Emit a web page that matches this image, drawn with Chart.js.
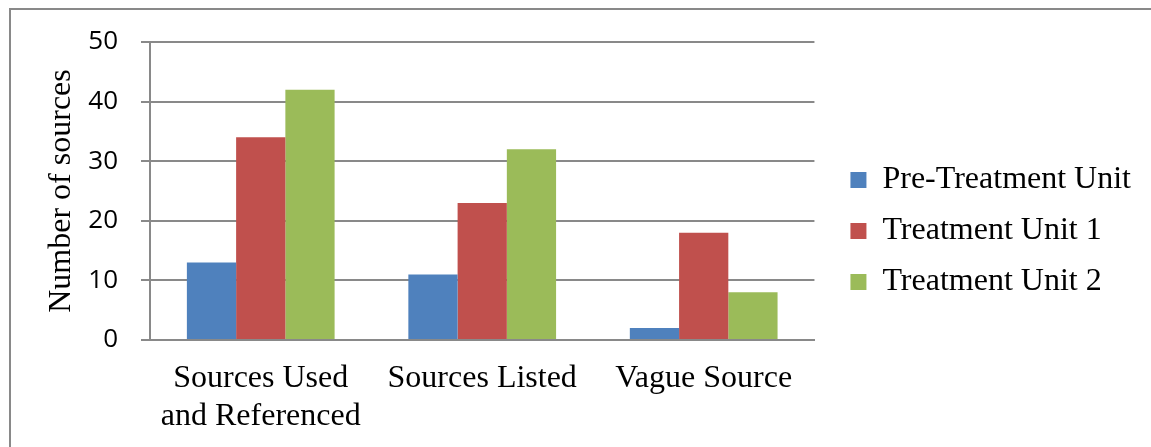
<!DOCTYPE html>
<html>
<head>
<meta charset="utf-8">
<title>Number of sources</title>
<script src="https://cdn.jsdelivr.net/npm/chart.js@4.4.0/dist/chart.umd.min.js"></script>
<style>
  html, body { margin: 0; padding: 0; background: #fff; }
  #wrap { width: 1151px; height: 447px; }
</style>
</head>
<body>
<div id="wrap"><canvas id="sourcesChart" width="1151" height="447"></canvas></div>
<script>
// data
const categories = [['Sources Used', 'and Referenced'], 'Sources Listed', 'Vague Source'];
const seriesNames = ['Pre-Treatment Unit', 'Treatment Unit 1', 'Treatment Unit 2'];
const preTreatment = [13, 11, 2];
const treatmentUnit1 = [34, 23, 18];
const treatmentUnit2 = [42, 32, 8];
const yTicks = [0, 10, 20, 30, 40, 50];

const seriesColors = ['#4F81BD', '#C0504D', '#9BBB59'];
const lineGray = '#898989';
const serif = 'Liberation Serif';

// grey frame along the top and left edges
const frame = {
  id: 'frame',
  beforeDraw(chart) {
    const ctx = chart.ctx;
    ctx.save();
    ctx.strokeStyle = lineGray;
    ctx.lineWidth = 2;
    ctx.beginPath();
    ctx.moveTo(10, chart.height);
    ctx.lineTo(10, 9);
    ctx.lineTo(chart.width, 9);
    ctx.stroke();
    ctx.restore();
  }
};

function buildDatasets() {
  return [preTreatment, treatmentUnit1, treatmentUnit2].map((values, i) => ({
    label: seriesNames[i],
    data: values,
    backgroundColor: seriesColors[i],
    borderWidth: 0,
    xAxisID: 'x',
    yAxisID: 'y'
  }));
}

// invisible scale used only to reserve room beside the plot
function spacer(position, size) {
  return {
    position: position,
    grid: { display: false },
    border: { display: false },
    ticks: { display: false },
    afterFit(scale) {
      if (scale.isHorizontal()) scale.height = size;
      else scale.width = size;
    }
  };
}

window.onload = function () {
  const ctx = document.getElementById('sourcesChart').getContext('2d');
  new Chart(ctx, {
    type: 'bar',
    data: { labels: categories, datasets: buildDatasets() },
    plugins: [frame],
    options: {
      responsive: false,
      animation: false,
      datasets: { bar: { categoryPercentage: 0.667, barPercentage: 1.0 } },
      layout: { padding: { top: 29, left: 20, right: 10, bottom: 14 } },
      plugins: {
        tooltip: { enabled: false },
        legend: {
          position: 'right',
          maxWidth: 360,
          labels: {
            boxWidth: 16,
            boxHeight: 16,
            padding: 19,
            color: '#000',
            font: { family: serif, size: 32 }
          }
        }
      },
      scales: {
        x: {
          grid: { display: false },
          border: { display: true, color: lineGray, width: 2 },
          ticks: { color: '#000', padding: 12, maxRotation: 0, font: { family: serif, size: 32, lineHeight: 1.18 } },
          afterFit(scale) { scale.height = 93; }
        },
        y: {
          min: yTicks[0],
          max: yTicks[yTicks.length - 1],
          grid: { color: lineGray, lineWidth: 2, tickLength: 9 },
          border: { display: true, color: lineGray, width: 2 },
          ticks: { stepSize: yTicks[1] - yTicks[0], color: '#000', padding: 23, font: { family: 'Open Sans', size: 26 } },
          title: {
            display: true,
            text: 'Number of sources',
            color: '#000',
            padding: { top: 22, bottom: 0 },
            font: { family: serif, size: 32, lineHeight: 1.2 }
          },
          afterFit(scale) { scale.width = 130; }
        },
        topGap: spacer('top', 13),
        rightGap: spacer('right', 17)
      }
    }
  });
};
</script>
</body>
</html>
